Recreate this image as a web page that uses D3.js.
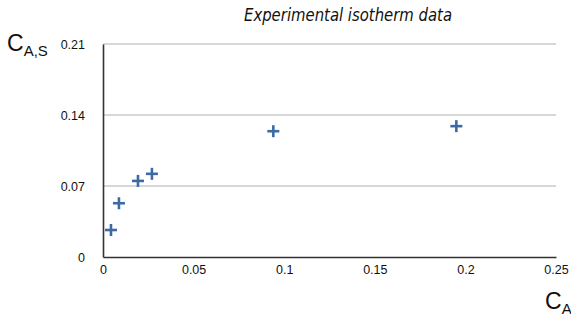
<!DOCTYPE html>
<meta charset="utf-8">
<html lang="en">
  <head>
    <style>
      body { margin: 0; background-color: #fff; }
      text { font-family: "Liberation Sans", Arial, sans-serif; }
      .tick text { font-size: 12.5px; fill: #111; }
      .title { font-family: "DejaVu Sans", sans-serif; font-style: italic; font-size: 18px; fill: #111; }
      .point { stroke: #3d6aa6; stroke-width: 2.6px; }
    </style>
  </head>

  <body>

    <script src="https://d3js.org/d3.v7.min.js"></script>

    <svg></svg>

    <script>

      // experimental isotherm points
      var cA  = [0.0044, 0.0088, 0.0193, 0.027, 0.094, 0.195];
      var cAS = [0.0266, 0.053, 0.075, 0.082, 0.124, 0.129];

      var xTicks = [0, 0.05, 0.1, 0.15, 0.2, 0.25];
      var yTicks = [0, 0.07, 0.14, 0.21];

      var width = 571,
        height = 316;

      var svg = d3.select("svg")
        .attr("width", width)
        .attr("height", height);

      var xScale = d3.scaleLinear()
        .domain([0, 0.25])
        .range([103, 556]);

      var yScale = d3.scaleLinear()
        .domain([0, 0.21])
        .range([257, 44]);

      // gridlines
      svg.selectAll(".grid")
        .data(yTicks.slice(1))
        .enter().append("line")
        .attr("class", "grid")
        .attr("x1", xScale(0))
        .attr("x2", xScale(0.25))
        .attr("y1", function(d) { return yScale(d); })
        .attr("y2", function(d) { return yScale(d); })
        .attr("stroke", "#b0b0b0")
        .attr("stroke-width", 1.2);

      var xAxis = svg.append("g")
        .attr("transform", "translate(0," + yScale(0) + ")")
        .call(d3.axisBottom(xScale).tickValues(xTicks).tickSize(0).tickPadding(8)
          .tickFormat(function(d) { return String(d); }));
      xAxis.select(".domain").attr("stroke", "#333").attr("stroke-width", 1.6);

      var yAxis = svg.append("g")
        .attr("transform", "translate(" + xScale(0) + ",0)")
        .call(d3.axisLeft(yScale).tickValues(yTicks).tickSize(0).tickPadding(18)
          .tickFormat(function(d) { return String(d); }));
      yAxis.select(".domain").attr("stroke", "#333").attr("stroke-width", 1.6);

      // plus markers
      var data = cA.map(function(d, i) { return {x: d, y: cAS[i]}; });
      var s = 6;
      var pts = svg.selectAll(".pt")
        .data(data)
        .enter().append("g")
        .attr("class", "pt")
        .attr("transform", function(d) { return "translate(" + xScale(d.x) + "," + yScale(d.y) + ")"; });
      pts.append("line").attr("class", "point").attr("x1", -s).attr("x2", s).attr("y1", 0).attr("y2", 0);
      pts.append("line").attr("class", "point").attr("x1", 0).attr("x2", 0).attr("y1", -s).attr("y2", s);

      svg.append("text")
        .attr("class", "title")
        .attr("x", 348)
        .attr("y", 21)
        .attr("text-anchor", "middle")
        .attr("textLength", 208)
        .attr("lengthAdjust", "spacingAndGlyphs")
        .text("Experimental isotherm data");

      // axis labels
      var yl = svg.append("text").attr("x", 7).attr("y", 51).attr("font-size", 23).attr("fill", "#111");
      yl.append("tspan").text("C");
      yl.append("tspan").attr("font-size", 15).attr("dy", 5).text("A,S");

      var xl = svg.append("text").attr("x", 545).attr("y", 309).attr("font-size", 23).attr("fill", "#111");
      xl.append("tspan").text("C");
      xl.append("tspan").attr("font-size", 15).attr("dy", 5).text("A");

    </script>

  </body>
</html>
